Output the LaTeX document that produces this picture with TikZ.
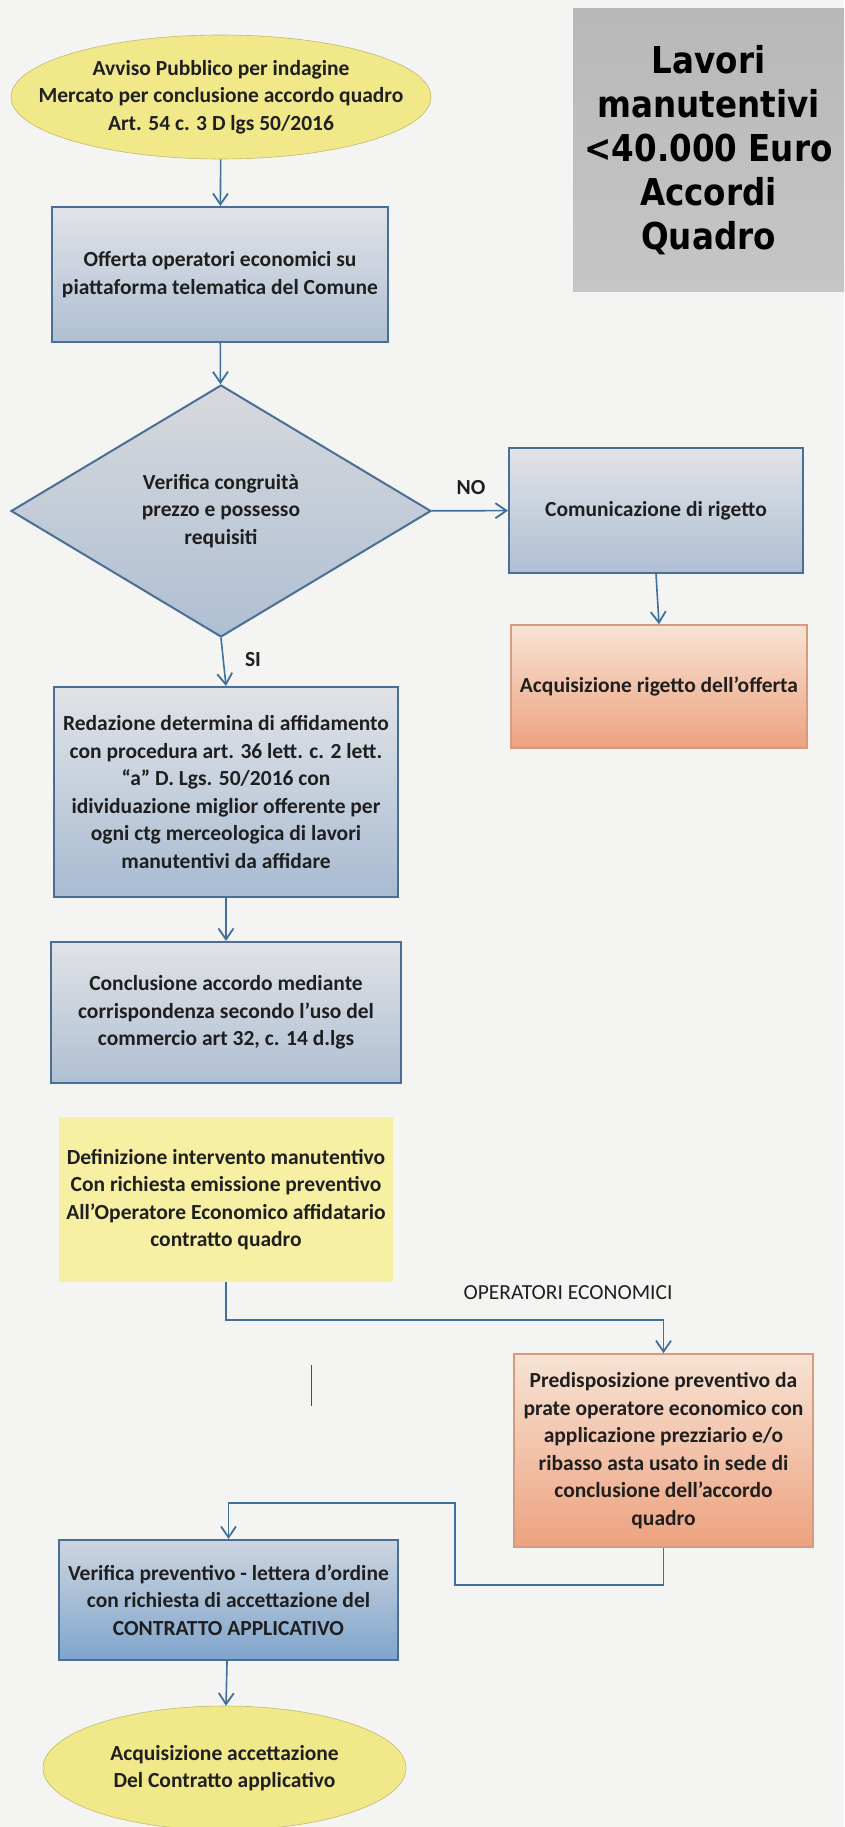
\documentclass[tikz,border=0pt]{standalone}
\usepackage{fontspec}
\setmainfont{Carlito}
\newfontfamily\titolofont[FakeStretch=0.88]{DejaVu Sans}
\usepackage{tikz}
\usetikzlibrary{positioning, shapes.geometric, arrows.meta}
\usepackage{xcolor}

\definecolor{sfondo}{HTML}{F4F4F2}
\definecolor{linea}{HTML}{41709E}
\definecolor{bordoblu}{HTML}{4A6F97}
\definecolor{grigiotop}{HTML}{E1E3E7}
\definecolor{grigiobot}{HTML}{AFBFD3}
\definecolor{blutop}{HTML}{CDD5DF}
\definecolor{blubot}{HTML}{7FA5CC}
\definecolor{salmonetop}{HTML}{F7E3D3}
\definecolor{salmonebot}{HTML}{EDA27F}
\definecolor{bordosalmone}{HTML}{D89A7F}
\definecolor{giallo}{HTML}{F1E88A}
\definecolor{giallobox}{HTML}{F7EFA2}
\definecolor{titolotop}{HTML}{B8B8B8}
\definecolor{titolobot}{HTML}{C6C6C6}

\begin{document}
\begin{tikzpicture}[x=1pt, y=-1pt,
    testo/.style={font=\fontsize{21.5}{27.5}\selectfont\bfseries, text=black!88, align=center, inner sep=0pt},
    boxblu/.style={testo, rectangle, draw=bordoblu, line width=2pt, top color=grigiotop, bottom color=grigiobot},
    boxsalmone/.style={testo, rectangle, draw=bordosalmone, line width=1.6pt, top color=salmonetop, bottom color=salmonebot},
    ovale/.style={testo, ellipse, draw=giallo!80!black, line width=0.6pt, fill=giallo, inner xsep=-38pt},
    freccia/.style={draw=linea, line width=1.6pt, -{Straight Barb[length=11pt, width=15pt, line width=1.8pt]}},
    linea/.style={draw=linea, line width=1.6pt}]

    % Page and background
    \fill[sfondo] (0,0) rectangle (844,1827);
    \useasboundingbox (0,0) rectangle (844,1827);

    % Title box
    \node[rectangle, minimum width=271pt, minimum height=282pt, inner sep=0pt,
          top color=titolotop, bottom color=titolobot, align=center,
          font=\titolofont\bfseries\fontsize{37}{44}\selectfont] (titolo) at (708.5,150)
          {Lavori\\manutentivi\\<40.000 Euro\\Accordi\\Quadro};

    % Left column
    \node[ovale, minimum width=420pt, minimum height=124pt] (avviso) at (221,97)
          {Avviso Pubblico per indagine\\Mercato per conclusione accordo quadro\\Art. 54 c. 3 D lgs 50/2016};
    \node[boxblu, minimum width=336pt, minimum height=135pt] (offerta) at (220,274.5)
          {Offerta operatori economici su\\piattaforma telematica del Comune};
    \node[testo, diamond, draw=bordoblu, line width=2pt, top color=grigiotop!90!gray, bottom color=grigiobot,
          minimum width=420pt, minimum height=252pt, shape aspect=1.667] (verifica) at (221,511)
          {Verifica congruità\\prezzo e possesso\\requisiti};
    \node[boxblu, minimum width=344pt, minimum height=210pt, bottom color=grigiobot!85!blubot] (redazione) at (226,792)
          {Redazione determina di affidamento\\con procedura art. 36 lett. c. 2 lett.\\“a” D. Lgs. 50/2016 con\\idividuazione miglior offerente per\\ogni ctg merceologica di lavori\\manutentivi da affidare};
    \node[boxblu, minimum width=350pt, minimum height=141pt] (conclusione) at (226,1012.5)
          {Conclusione accordo mediante\\corrispondenza secondo l’uso del\\commercio art 32, c. 14 d.lgs};
    \node[testo, rectangle, fill=giallobox, minimum width=334pt, minimum height=165pt] (definizione) at (226,1199.5)
          {Definizione intervento manutentivo\\Con richiesta emissione preventivo\\All'Operatore Economico affidatario\\contratto quadro};
    \node[boxblu, minimum width=339pt, minimum height=120pt, top color=blutop, bottom color=blubot] (verprev) at (228.5,1600)
          {Verifica preventivo - lettera d'ordine\\con richiesta di accettazione del\\CONTRATTO APPLICATIVO};
    \node[ovale, minimum width=363pt, minimum height=124pt] (accett) at (224.5,1768)
          {Acquisizione accettazione\\Del Contratto applicativo};

    % Right column
    \node[boxblu, minimum width=294pt, minimum height=125pt] (rigetto) at (656,510.5)
          {Comunicazione di rigetto};
    \node[boxsalmone, minimum width=296pt, minimum height=123pt] (acqrig) at (659,686.5)
          {Acquisizione rigetto dell'offerta};
    \node[boxsalmone, minimum width=299pt, minimum height=193pt] (predisp) at (663.5,1450.5)
          {Predisposizione preventivo da\\prate operatore economico con\\applicazione prezziario e/o\\ribasso asta usato in sede di\\conclusione dell'accordo\\quadro};

    % Labels
    \node[testo] (no) at (471,488) {NO};
    \node[testo] (si) at (253,660) {SI};
    \node[testo, font=\fontsize{21.5}{27.5}\selectfont] (operatori) at (568,1293) {OPERATORI ECONOMICI};

    % Connectors
    \draw[freccia] (avviso) -- (offerta);
    \draw[freccia] (offerta) -- (verifica);
    \draw[freccia] (verifica) -- (rigetto);
    \draw[freccia] (rigetto.south) -- (acqrig.north);
    \draw[freccia] (verifica.south) -- (redazione.north);
    \draw[freccia] (redazione) -- (conclusione);
    \draw[freccia] (definizione.south) -- ++(0,38) -| (predisp.north);
    \coordinate (r1) at (455,1585);
    \coordinate (r2) at (455,1503);
    \draw[freccia] (predisp.south) |- (r1) -- (r2) -| (verprev.north);
    \draw[freccia] (verprev) -- (accett);

    % Stray mark
    \draw[black!70, line width=0.8pt] (311,1365) -- (311,1406);

\end{tikzpicture}
\end{document}
